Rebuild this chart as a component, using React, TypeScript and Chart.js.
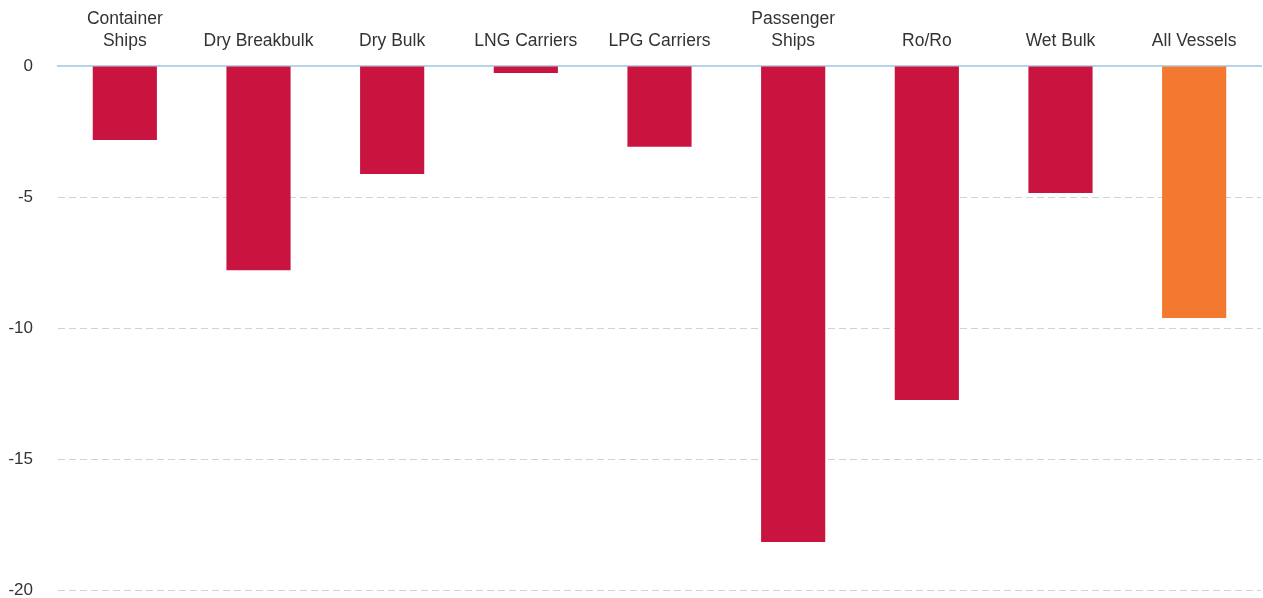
import React, { useEffect, useRef } from "react";
import { Chart, registerables } from "chart.js";

Chart.register(...registerables);

const categories: (string | string[])[] = [
  ["Container", "Ships"],
  "Dry Breakbulk",
  "Dry Bulk",
  "LNG Carriers",
  "LPG Carriers",
  ["Passenger", "Ships"],
  "Ro/Ro",
  "Wet Bulk",
  "All Vessels",
];
const values: number[] = [-2.82, -7.8, -4.12, -0.27, -3.08, -18.17, -12.75, -4.85, -9.62];
const barColors: string[] = [
  "#C8143F", "#C8143F", "#C8143F", "#C8143F", "#C8143F",
  "#C8143F", "#C8143F", "#C8143F", "#F37830",
];
const yMin = -20;
const yMax = 0;
const yStep = 5;

const FONT = "'Liberation Sans', Arial, Helvetica, sans-serif";

export default function App() {
  const ref = useRef<HTMLCanvasElement | null>(null);
  useEffect(() => {
    if (!ref.current) return;
    const chart = new Chart(ref.current, {
      type: "bar",
      data: {
        labels: categories,
        datasets: [
          {
            data: values,
            backgroundColor: barColors,
            borderWidth: 0,
            categoryPercentage: 0.48,
            barPercentage: 1,
          },
        ],
      },
      options: {
        responsive: false,
        animation: false,
        layout: { padding: { left: 0, right: 2, top: 0, bottom: 0 } },
        plugins: { legend: { display: false }, tooltip: { enabled: false } },
        scales: {
          x: {
            position: "top",
            grid: { display: false, drawTicks: false },
            border: { display: true, color: "#B9D3E6", width: 2 },
            ticks: {
              color: "#333333",
              font: { family: FONT, size: 17.5, lineHeight: 1.25 },
              padding: 14,
              maxRotation: 0,
              autoSkip: false,
            },
            afterFit: (s: any) => {
              s.height = 66;
            },
          },
          y: {
            min: yMin,
            max: yMax,
            ticks: {
              stepSize: yStep,
              color: "#333333",
              font: { family: FONT, size: 17 },
              padding: 25,
            },
            grid: {
              drawTicks: false,
              color: (ctx: any) => (ctx.tick && ctx.tick.value === 0 ? "rgba(0,0,0,0)" : "#D2D2D2"),
              lineWidth: 1,
            },
            border: { display: false, dash: [7, 4] },
            afterFit: (s: any) => {
              s.width = 58;
              s.paddingTop = 0;
              s.paddingBottom = 8;
            },
          },
        },
      },
    });
    return () => chart.destroy();
  }, []);
  return (
    <div style={{ position: "absolute", left: 0, top: 0, width: 1263, height: 598, background: "#fff" }}>
      <canvas ref={ref} width={1263} height={598} />
    </div>
  );
}
